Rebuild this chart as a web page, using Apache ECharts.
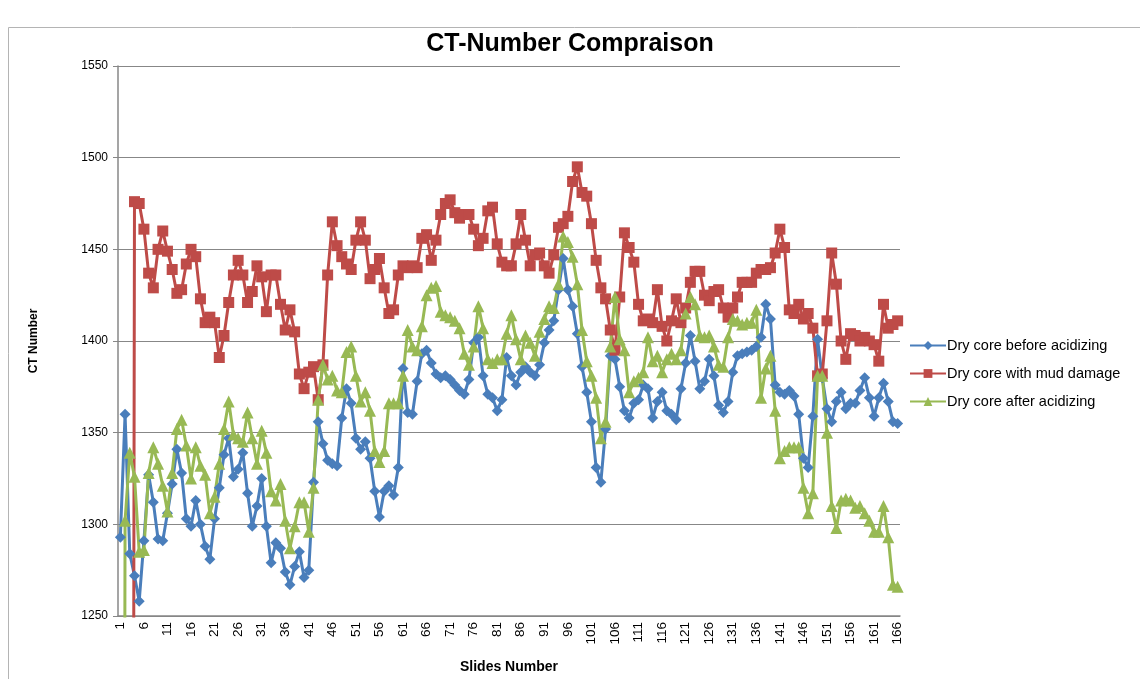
<!DOCTYPE html>
<html>
<head>
<meta charset="utf-8">
<script src="https://cdn.jsdelivr.net/npm/echarts@6/dist/echarts.min.js"></script>
<style>
  html, body { margin: 0; padding: 0; background: #ffffff; }
  #chart { width: 1140px; height: 679px; }
</style>
</head>
<body>
<div id="chart"></div>
<script>
// slide numbers 1..166
var slides = [];
for (var n = 1; n <= 166; n++) slides.push(String(n));

var beforeAcid = [
  1293, 1360, 1284, 1272, 1258, 1291, 1327, 1312, 1292, 1291,
  1306, 1322, 1341, 1328, 1303, 1299, 1313, 1300, 1288, 1281,
  1303, 1320, 1338, 1347, 1326, 1330, 1339, 1317, 1299, 1310,
  1325, 1299, 1279, 1290, 1287, 1274, 1267, 1277, 1285, 1271,
  1275, 1323, 1356, 1344, 1335, 1333, 1332, 1358, 1374, 1366,
  1347, 1341, 1345, 1336, 1318, 1304, 1318, 1321, 1316, 1331,
  1385, 1361, 1360, 1378, 1393, 1395, 1388, 1382, 1380, 1381,
  1379, 1376, 1373, 1371, 1379, 1399, 1402, 1381, 1371, 1369,
  1362, 1368, 1391, 1381, 1376, 1383, 1386, 1383, 1381, 1387,
  1399, 1406, 1411, 1428, 1445, 1428, 1419, 1404, 1386, 1372,
  1356, 1331, 1323, 1352, 1392, 1390, 1375, 1362, 1358, 1366,
  1368, 1376, 1374, 1358, 1367, 1372, 1362, 1360, 1357, 1374,
  1388, 1403, 1389, 1374, 1378, 1390, 1381, 1365, 1361, 1367,
  1383, 1392, 1393, 1394, 1395, 1397, 1402, 1420, 1412, 1376,
  1372, 1371, 1373, 1370, 1360, 1336, 1331, 1359, 1401, 1380,
  1363, 1356, 1367, 1372, 1363, 1366, 1366, 1373, 1380, 1369,
  1359, 1369, 1377, 1367, 1356, 1355
];

var mudDamage = [
  0, 0, 0, 1476, 1475, 1461, 1437, 1429, 1450, 1460,
  1449, 1439, 1426, 1428, 1442, 1450, 1446, 1423, 1410, 1413,
  1410, 1391, 1403, 1421, 1436, 1444, 1436, 1421, 1427, 1441,
  1435, 1416, 1436, 1436, 1420, 1406, 1417, 1405, 1382, 1374,
  1383, 1386, 1368, 1387, 1436, 1465, 1452, 1446, 1442, 1439,
  1455, 1465, 1455, 1434, 1439, 1445, 1429, 1415, 1417, 1436,
  1441, 1440, 1441, 1440, 1456, 1458, 1444, 1455, 1469, 1475,
  1477, 1470, 1467, 1469, 1469, 1461, 1452, 1456, 1471, 1473,
  1453, 1443, 1441, 1441, 1453, 1469, 1455, 1441, 1447, 1448,
  1441, 1437, 1447, 1462, 1464, 1468, 1487, 1495, 1481, 1479,
  1464, 1444, 1429, 1423, 1406, 1395, 1424, 1459, 1451, 1443,
  1420, 1411, 1412, 1410, 1428, 1408, 1400, 1411, 1423, 1410,
  1418, 1432, 1438, 1438, 1425, 1422, 1427, 1428, 1418, 1413,
  1418, 1424, 1432, 1432, 1432, 1437, 1439, 1439, 1440, 1448,
  1461, 1451, 1417, 1415, 1420, 1412, 1415, 1407, 1381, 1382,
  1411, 1448, 1431, 1400, 1390, 1404, 1403, 1400, 1402, 1400,
  1398, 1389, 1420, 1407, 1409, 1411
];

var afterAcid = [
  0, 1302, 1339, 1326, 1285, 1286, 1328, 1342, 1333, 1321,
  1307, 1328, 1352, 1357, 1343, 1325, 1342, 1332, 1327, 1306,
  1315, 1333, 1352, 1367, 1349, 1347, 1345, 1361, 1347, 1333,
  1351, 1339, 1318, 1313, 1322, 1302, 1287, 1299, 1312, 1312,
  1296, 1320, 1368, 1387, 1379, 1381, 1373, 1372, 1394, 1397,
  1381, 1367, 1372, 1362, 1340, 1334, 1340, 1366, 1366, 1366,
  1381, 1406, 1397, 1395, 1408, 1425, 1429, 1430, 1416, 1414,
  1413, 1411, 1407, 1393, 1387, 1397, 1419, 1407, 1390, 1388,
  1390, 1390, 1404, 1414, 1401, 1390, 1403, 1399, 1392, 1405,
  1412, 1419, 1418, 1431, 1457, 1454, 1446, 1431, 1406, 1389,
  1381, 1369, 1347, 1356, 1397, 1424, 1401, 1395, 1372, 1378,
  1380, 1383, 1402, 1389, 1392, 1383, 1390, 1393, 1390, 1395,
  1415, 1424, 1420, 1403, 1402, 1403, 1397, 1387, 1386, 1402,
  1412, 1411, 1409, 1410, 1410, 1417, 1369, 1385, 1392, 1362,
  1336, 1340, 1342, 1342, 1342, 1320, 1306, 1317, 1381, 1381,
  1350, 1310, 1298, 1313, 1314, 1313, 1309, 1310, 1306, 1302,
  1296, 1296, 1310, 1293, 1267, 1266
];

var yMin = 1250, yMax = 1550, yStep = 50;

var font = "'Liberation Sans', Arial, sans-serif";
var gridGray = '#878787';

var chart = echarts.init(document.getElementById('chart'));
chart.setOption({
    backgroundColor: '#ffffff',
    animation: false,
    color: ['#4A7EBB', '#BE4B48', '#98B954'],
    graphic: [{
        type: 'rect',
        shape: { x: 8.5, y: 27.5, width: 1140, height: 700 },
        style: { fill: 'none', stroke: '#b4b4b4', lineWidth: 1 },
        silent: true
    }],
    title: {
        text: 'CT-Number Compraison',
        left: 'center',
        top: 27,
        textStyle: { fontFamily: font, fontSize: 25, fontWeight: 'bold', color: '#000' }
    },
    legend: {
        orient: 'vertical',
        left: 904,
        top: 333,
        itemWidth: 36,
        itemHeight: 11,
        itemGap: 13,
        data: ['Dry core before acidizing', 'Dry core with mud damage', 'Dry core after acidizing'],
        textStyle: { fontFamily: font, fontSize: 14.5, color: '#000', padding: [0, 0, 0, -4] }
    },
    grid: {
        left: 118,
        right: 240,
        top: 66,
        bottom: 54,
        containLabel: false
    },
    xAxis: {
        type: 'category',
        data: slides,
        boundaryGap: true,
        name: 'Slides Number',
        nameLocation: 'middle',
        nameGap: 44,
        nameTextStyle: { fontFamily: font, fontSize: 14, fontWeight: 'bold', color: '#000' },
        axisLine: { lineStyle: { color: gridGray, width: 1.5 } },
        axisTick: { show: false },
        axisLabel: {
            interval: 4,
            rotate: 90,
            fontFamily: font,
            fontSize: 13.5,
            color: '#000',
            margin: 6
        }
    },
    yAxis: {
        type: 'value',
        min: yMin,
        max: yMax,
        interval: yStep,
        name: 'CT Number',
        nameLocation: 'middle',
        nameGap: 78,
        nameTextStyle: { fontFamily: font, fontSize: 12, fontWeight: 'bold', color: '#000' },
        axisLine: { show: true, lineStyle: { color: gridGray, width: 1.5 } },
        axisTick: { show: true, length: 5, lineStyle: { color: gridGray } },
        axisLabel: {
            fontFamily: font,
            fontSize: 12,
            color: '#000',
            margin: 10,
            formatter: function (v) { return String(v); }
        },
        splitLine: { show: true, lineStyle: { color: gridGray, width: 1 } }
    },
    series: [{
        name: 'Dry core before acidizing',
        type: 'line',
        data: beforeAcid,
        symbol: 'diamond',
        symbolSize: 11,
        showAllSymbol: true,
        lineStyle: { width: 3 },
        clip: true
    }, {
        name: 'Dry core with mud damage',
        type: 'line',
        data: mudDamage,
        symbol: 'rect',
        symbolSize: 11,
        showAllSymbol: true,
        lineStyle: { width: 3 },
        clip: true
    }, {
        name: 'Dry core after acidizing',
        type: 'line',
        data: afterAcid,
        symbol: 'triangle',
        symbolSize: 12,
        showAllSymbol: true,
        lineStyle: { width: 3 },
        clip: true
    }]
});
</script>
</body>
</html>
